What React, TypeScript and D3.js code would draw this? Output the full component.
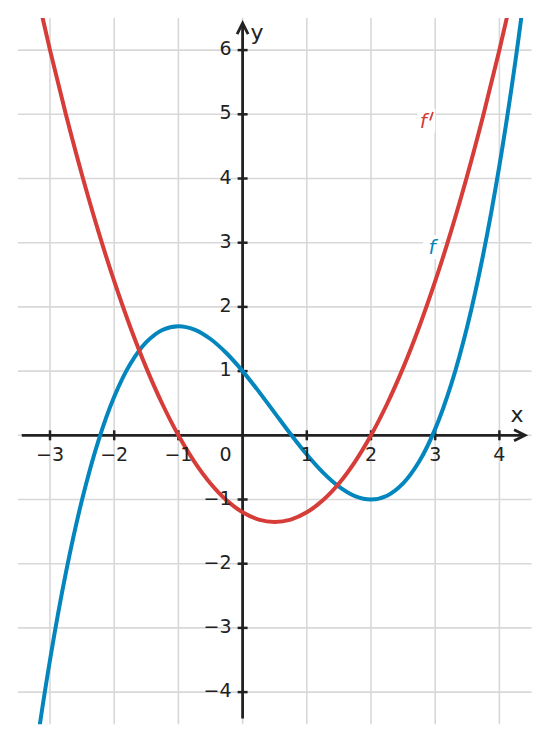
import React from "react";
import * as d3 from "d3";

const xSamples = [
  -3.5, -3.25, -3, -2.75, -2.5, -2.25, -2, -1.75, -1.5, -1.25, -1, -0.75, -0.5, -0.25, 0,
  0.25, 0.5, 0.75, 1, 1.25, 1.5, 1.75, 2, 2.25, 2.5, 2.75, 3, 3.25, 3.5, 3.75, 4, 4.25, 4.5,
];
const fValues = [
  -7.05, -5.1344, -3.5, -2.1281, -1.0, -0.0969, 0.6, 1.1094, 1.45, 1.6406, 1.7, 1.6469, 1.5,
  1.2781, 1.0, 0.6844, 0.35, 0.0156, -0.3, -0.5781, -0.8, -0.9469, -1.0, -0.9406, -0.75,
  -0.4094, 0.1, 0.7969, 1.7, 2.8281, 4.2, 5.8344, 7.75,
];
const fPrimeValues = [
  8.25, 7.0875, 6.0, 4.9875, 4.05, 3.1875, 2.4, 1.6875, 1.05, 0.4875, 0, -0.4125, -0.75,
  -1.0125, -1.2, -1.3125, -1.35, -1.3125, -1.2, -1.0125, -0.75, -0.4125, 0, 0.4875, 1.05,
  1.6875, 2.4, 3.1875, 4.05, 4.9875, 6.0, 7.0875, 8.25,
];
const xTicks = [-3, -2, -1, 1, 2, 3, 4];
const yTicks = [-4, -3, -2, -1, 1, 2, 3, 4, 5, 6];
const gridX = [-3, -2, -1, 0, 1, 2, 3, 4];
const gridY = [-4, -3, -2, -1, 0, 1, 2, 3, 4, 5, 6];
const curveLabels = [
  { text: "f", prime: true, x: 2.86, y: 4.9, color: "#d63c38" },
  { text: "f", prime: false, x: 2.95, y: 2.93, color: "#0386bd" },
];

const W = 549;
const H = 742;
const RED = "#d63c38";
const BLUE = "#0386bd";
const AX = "#222222";
const FONT = "'DejaVu Sans', sans-serif";

export default function App() {
  const x = d3.scaleLinear().domain([-3.5, 4.5]).range([17.9, 531.5]);
  const y = d3.scaleLinear().domain([-4.5, 6.5]).range([724.2, 18]);
  const x0 = x(0);
  const y0 = y(0);

  const line = d3
    .line<number>()
    .x((_, i) => x(xSamples[i]))
    .y((d) => y(d))
    .curve(d3.curveCatmullRom.alpha(0.5));

  const xAxisStart = x(-3.44);
  const xAxisEnd = x(4.4);
  const yAxisStart = y(-4.41);
  const yAxisEnd = y(6.42);
  const fmt = (v: number) => String(v).replace("-", "\u2212");

  return (
    <svg
      width={W}
      height={H}
      style={{ position: "absolute", left: 0, top: 0, background: "#fff" }}
      fontFamily={FONT}
    >
      <defs>
        <clipPath id="plotclip">
          <rect x={x(-3.5)} y={y(6.5)} width={x(4.5) - x(-3.5)} height={y(-4.5) - y(6.5)} />
        </clipPath>
      </defs>
      <rect x={0} y={0} width={W} height={H} fill="#fff" />
      {/* grid */}
      <g stroke="#d8d8d8" strokeWidth={1.6}>
        {gridX.map((v) => (
          <line key={"gx" + v} x1={x(v)} x2={x(v)} y1={y(6.5)} y2={y(-4.5)} />
        ))}
        {gridY.map((v) => (
          <line key={"gy" + v} x1={x(-3.5)} x2={x(4.5)} y1={y(v)} y2={y(v)} />
        ))}
      </g>
      {/* curve labels with white background */}
      {curveLabels.map((l, i) => (
        <g key={"cl" + i}>
          <rect x={x(l.x) - 9} y={y(l.y) - 12} width={18} height={24} fill="#fff" />
          <text
            x={x(l.x) - (l.prime ? 3 : 0)}
            y={y(l.y) + 7}
            textAnchor="middle"
            fontSize={20}
            fontStyle="italic"
            fill={l.color}
          >
            {l.text}
          </text>
          {l.prime ? (
            <path
              d={`M${x(l.x) + 6.5},${y(l.y) - 8}L${x(l.x) + 4},${y(l.y) - 1}`}
              stroke={l.color}
              strokeWidth={1.8}
              strokeLinecap="round"
            />
          ) : null}
        </g>
      ))}
      {/* axes */}
      <g stroke={AX} strokeWidth={2.8} fill="none" strokeLinecap="butt">
        <line x1={xAxisStart} x2={xAxisEnd} y1={y0} y2={y0} />
        <line x1={x0} x2={x0} y1={yAxisStart} y2={yAxisEnd} />
        <path
          d={`M${xAxisEnd - 11},${y0 - 5.5}L${xAxisEnd},${y0}L${xAxisEnd - 11},${y0 + 5.5}`}
          strokeLinejoin="miter"
        />
        <path
          d={`M${x0 - 5.5},${yAxisEnd + 11}L${x0},${yAxisEnd}L${x0 + 5.5},${yAxisEnd + 11}`}
          strokeLinejoin="miter"
        />
      </g>
      <g stroke={AX} strokeWidth={2.5}>
        {xTicks.map((v) => (
          <line key={"tx" + v} x1={x(v)} x2={x(v)} y1={y0 - 5} y2={y0 + 5} />
        ))}
        {yTicks.map((v) => (
          <line key={"ty" + v} x1={x0 - 5} x2={x0 + 5} y1={y(v)} y2={y(v)} />
        ))}
      </g>
      {/* curves */}
      <g clipPath="url(#plotclip)" fill="none" strokeWidth={4} strokeLinejoin="round">
        <path d={line(fValues) || ""} stroke={BLUE} />
        <path d={line(fPrimeValues) || ""} stroke={RED} />
      </g>
      {/* tick labels */}
      <g fontSize={19} fill={AX}>
        {xTicks.map((v) => (
          <text key={"lx" + v} x={x(v)} y={y0 + 25.5} textAnchor="middle">
            {fmt(v)}
          </text>
        ))}
        <text x={x0 - 11} y={y0 + 25.5} textAnchor="end">0</text>
        {yTicks.map((v) => (
          <text key={"ly" + v} x={x0 - 11} y={y(v) + 5} textAnchor="end">
            {fmt(v)}
          </text>
        ))}
      </g>
      {/* axis names */}
      <g fontSize={22} fill={AX}>
        <text x={517} y={422} textAnchor="middle">x</text>
        <text x={257} y={40} textAnchor="middle">y</text>
      </g>
    </svg>
  );
}
